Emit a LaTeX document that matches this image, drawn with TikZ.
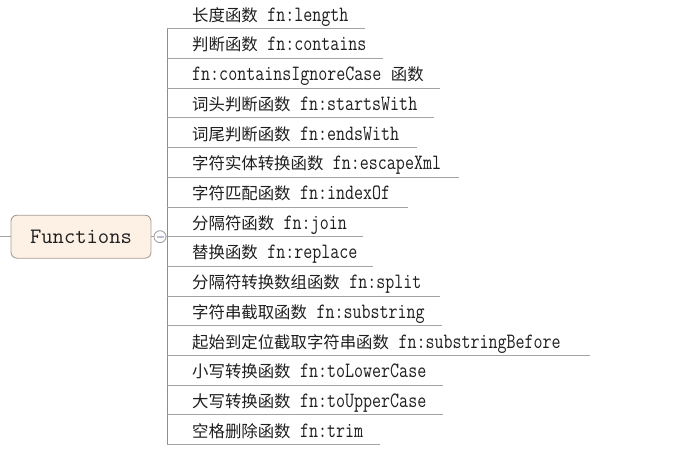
\documentclass[tikz,border=0pt]{standalone}
\usepackage{fontspec}
\newfontfamily\cjkfont{Noto Sans CJK SC}
\newcommand\cj[1]{{\cjkfont\fontsize{16.4}{18}\selectfont #1}}
\newcommand\ft[1]{\scalebox{1}[1.25]{\fontsize{17.5}{20}\selectfont\ttfamily #1}}
\newcommand\gap{\hspace{9.5pt}}
\definecolor{linegray}{HTML}{A3A3A3}
\definecolor{spinegray}{HTML}{8E8E8E}
\definecolor{rootfill}{HTML}{FDF1E6}
\definecolor{rootdraw}{HTML}{A89D94}
\definecolor{txt}{HTML}{1E1E1E}
\definecolor{dashblue}{HTML}{B8C0D8}
\tikzset{
  itemtext/.style={anchor=base west, inner sep=0pt, text=txt},
  uline/.style={draw=linegray, line width=0.9pt},
  conn/.style={draw=linegray, line width=1pt},
  rootbox/.style={draw=rootdraw, fill=rootfill, rounded corners=6pt, line width=0.9pt,
    minimum width=140pt, minimum height=43pt, inner sep=0pt, text=txt},
  knob/.style={circle, draw=linegray, fill=white, line width=0.9pt, minimum size=12pt, inner sep=0pt}
}
\begin{document}
\begin{tikzpicture}[x=1pt,y=-1pt]
\useasboundingbox (0,0) rectangle (692,452);
% root
\node[rootbox] (root) at (81,236.7) {\fontsize{22}{24}\selectfont\ttfamily Functions};
\coordinate (lft) at (0,236.7);
\draw[conn] (lft) -- (root.west);
\node[knob] (knob) at (160,236.7) {};
\draw[conn] (root.east) -- (knob.west);
\draw[dashblue, line width=2pt] ([xshift=-3.5pt]knob.center) -- ([xshift=3.5pt]knob.center);
\coordinate (sp) at (167,236.7);
\draw[conn] (knob.east) -- (sp);
% spine
\coordinate (spt) at (167,28.8);
\coordinate (spb) at (167,444.6);
\draw[draw=spinegray, line width=1pt] (spt) -- (spb);
% items
\foreach \i/\e/\t in {
 1/365/{\cj{长度函数}\gap\ft{fn:length}},
 2/383/{\cj{判断函数}\gap\ft{fn:contains}},
 3/440/{\ft{fn:containsIgnoreCase}\gap\cj{函数}},
 4/434/{\cj{词头判断函数}\gap\ft{fn:startsWith}},
 5/417/{\cj{词尾判断函数}\gap\ft{fn:endsWith}},
 6/459/{\cj{字符实体转换函数}\gap\ft{fn:escapeXml}},
 7/408/{\cj{字符匹配函数}\gap\ft{fn:indexOf}},
 8/363/{\cj{分隔符函数}\gap\ft{fn:join}},
 9/373/{\cj{替换函数}\gap\ft{fn:replace}},
 10/440/{\cj{分隔符转换数组函数}\gap\ft{fn:split}},
 11/442/{\cj{字符串截取函数}\gap\ft{fn:substring}},
 12/590/{\cj{起始到定位截取字符串函数}\gap\ft{fn:substringBefore}},
 13/443/{\cj{小写转换函数}\gap\ft{fn:toLowerCase}},
 14/443/{\cj{大写转换函数}\gap\ft{fn:toUpperCase}},
 15/380/{\cj{空格删除函数}\gap\ft{fn:trim}}}
{
  \pgfmathsetmacro\yy{28.8+29.7*(\i-1)}
  \coordinate (s\i) at (167,\yy);
  \coordinate (e\i) at (\e,\yy);
  \draw[uline] (s\i) -- (e\i);
  \node[itemtext] (t\i) at (192,\yy-7.5) {\t};
}
\end{tikzpicture}
\end{document}
